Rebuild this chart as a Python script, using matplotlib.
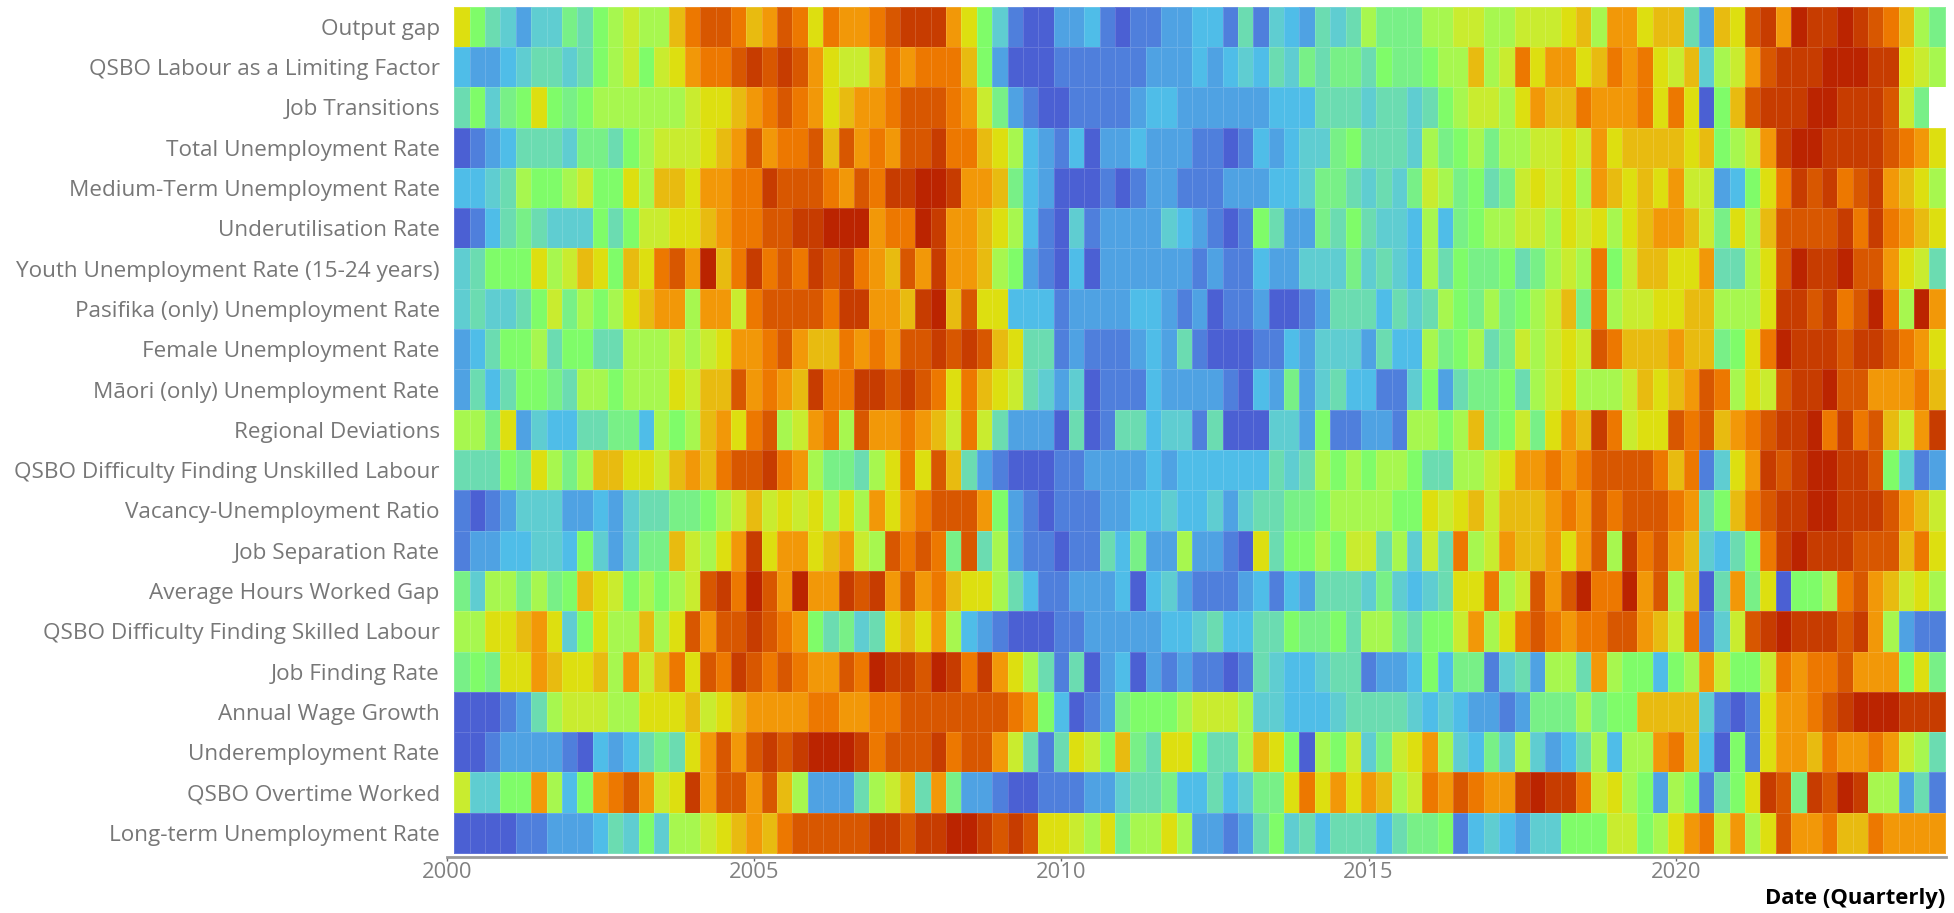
import numpy as np
import matplotlib
matplotlib.use("Agg")
import matplotlib.pyplot as plt
from matplotlib.colors import LinearSegmentedColormap

nan = float("nan")

output_gap = [10,7,5,4,2,4,4,6,5,7,8,9,8,8,11,13,14,14,13,11,12,14,13,10,13,
              12,12,13,14,15,15,15,12,10,7,4,1,0,0,2,2,3,1,0,1,1,2,2,3,3,
              1,5,1,4,3,2,5,4,5,8,6,6,6,8,8,9,9,8,8,9,9,9,
              10,11,8,12,12,10,11,11,5,2,11,10,14,15,12,16,15,15,16,15,14,13,11,8,6]
qsbo_labour = [3,2,2,3,4,5,5,4,5,7,8,9,7,9,10,12,13,13,14,15,14,15,14,12,10,
               9,9,11,13,12,13,13,13,11,7,2,0,0,0,1,1,1,1,1,1,2,2,2,3,2,
               3,4,3,5,4,6,5,6,6,5,7,6,6,7,8,8,11,8,9,13,10,12,
               12,10,11,13,12,13,10,9,11,4,8,9,12,14,15,15,15,16,16,16,15,15,10,9,8]
job_transitions = [5,7,4,6,7,10,7,6,7,8,8,8,8,8,8,9,10,10,11,12,13,14,13,12,10,
                   11,12,12,13,14,14,14,13,12,9,6,2,1,0,0,1,1,1,1,2,3,3,2,2,2,
                   2,2,2,3,3,3,5,5,5,4,5,5,4,5,7,8,9,9,8,10,12,11,
                   11,13,12,12,12,13,10,13,10,0,7,11,14,15,15,15,16,16,15,15,15,14,9,6,nan]
total_unemp = [0,1,2,3,5,5,5,4,6,6,5,7,8,9,9,9,10,11,12,14,12,13,13,14,11,
               14,12,13,12,14,14,15,13,13,11,10,8,3,2,1,3,0,2,2,3,2,2,2,1,1,
               0,1,3,2,3,4,4,6,7,5,5,5,4,8,6,7,8,6,8,8,9,9,
               10,9,12,10,11,11,11,11,10,11,7,8,9,12,15,16,16,15,15,15,15,14,13,12,10]
medium_unemp = [3,3,4,5,8,7,7,8,9,7,7,10,8,11,11,10,12,12,13,13,15,14,14,14,13,
                12,14,13,15,15,16,16,15,12,12,11,6,3,2,0,0,0,1,0,1,2,2,1,1,1,
                2,2,2,3,3,4,6,6,5,4,5,4,6,9,8,6,7,5,6,9,10,9,
                10,8,12,11,10,11,10,12,9,9,2,3,7,10,13,15,14,15,13,14,15,12,11,10,8]
underutil = [0,1,3,5,6,5,4,4,4,7,5,7,9,9,10,10,11,12,13,13,14,14,15,15,16,
             16,16,12,13,13,16,15,12,12,11,10,8,3,1,0,4,1,2,2,2,2,4,3,2,1,
             0,1,7,5,2,2,6,5,7,5,4,4,3,8,3,6,7,8,8,9,9,8,
             10,9,10,8,10,11,12,12,11,9,6,10,8,11,14,14,14,14,15,13,15,13,12,11,10]
youth_unemp = [4,5,7,7,7,10,8,9,11,10,7,11,10,13,14,12,16,11,13,15,13,14,13,15,14,
               15,13,12,11,14,12,15,12,12,11,8,7,2,1,0,3,0,2,2,2,2,2,2,1,2,
               1,1,3,2,2,4,4,4,6,4,5,4,3,8,5,7,6,6,7,5,6,8,
               9,8,13,7,9,11,11,10,10,12,5,5,8,10,14,16,15,15,16,14,14,12,10,9,5]
pasifika = [4,5,4,4,5,7,9,6,8,7,8,10,11,12,12,8,12,12,9,13,14,14,14,14,13,
            15,15,12,12,11,15,16,11,14,10,10,3,3,3,1,2,2,2,2,3,3,2,1,2,0,
            1,1,2,0,0,1,2,5,5,5,3,5,4,5,8,7,6,8,6,7,8,9,
            11,6,13,8,9,9,10,10,11,11,8,8,8,10,15,15,14,15,13,14,16,13,8,16,12]
female = [2,3,5,7,7,8,5,7,7,5,5,8,8,8,9,8,9,10,12,12,13,14,12,11,11,
          13,12,13,12,14,14,15,14,15,14,11,10,5,5,1,2,1,1,1,2,3,2,5,1,0,
          0,0,1,1,3,2,4,4,4,2,5,3,3,8,6,7,8,5,6,9,8,9,
          10,9,14,13,11,11,11,12,11,11,6,7,10,13,16,15,15,15,14,15,15,14,13,12,10]
maori = [2,5,3,5,7,7,6,5,8,8,7,8,8,8,10,9,11,11,14,12,13,12,11,15,13,
         13,15,15,14,15,14,13,10,13,11,10,9,5,4,2,4,0,1,1,1,3,2,2,2,2,
         1,0,3,2,6,2,4,5,3,3,1,1,4,7,2,5,6,6,7,5,8,9,
         10,8,8,8,9,11,10,11,12,14,13,8,10,9,14,15,15,16,14,14,12,12,12,13,11]
regional = [8,8,6,10,2,4,3,3,5,5,6,6,3,8,7,8,11,12,10,13,14,8,9,12,13,
            8,14,12,12,13,12,11,9,13,9,5,2,2,2,0,5,0,1,5,5,3,4,4,1,5,
            0,0,0,4,4,2,7,1,1,2,2,1,8,8,7,8,11,6,7,9,6,10,
            12,11,15,13,9,10,10,14,13,14,11,12,13,14,15,15,16,13,15,13,14,11,9,12,15]
qsbo_unskilled = [5,5,5,7,6,10,8,6,8,11,11,10,10,9,11,12,11,13,14,14,15,13,12,8,6,
                  6,5,8,10,13,10,14,11,5,2,1,0,0,0,1,1,2,2,2,2,3,2,3,3,3,
                  3,3,3,5,4,5,8,7,8,7,8,8,7,5,5,8,8,9,10,12,12,13,
                  12,13,14,14,14,14,13,11,13,1,4,10,12,15,14,15,16,16,15,15,14,7,4,1,2]
vacancy = [1,0,1,2,4,4,4,2,2,3,2,4,5,5,6,6,7,8,9,11,9,10,9,10,8,
           10,8,12,10,12,13,14,14,14,12,7,2,1,0,1,1,1,2,2,3,3,4,3,3,4,
           2,4,5,5,6,6,7,8,8,8,8,7,7,10,9,10,11,9,11,11,11,12,
           13,12,14,13,14,14,14,13,12,5,7,11,13,14,15,15,16,16,15,15,15,14,12,11,9]
job_separation = [1,2,2,3,3,4,4,3,7,4,2,4,6,6,11,9,8,10,12,15,10,12,12,10,11,
                  12,9,8,14,13,14,13,6,14,5,8,2,1,1,0,1,1,5,3,6,2,2,8,2,2,
                  1,0,10,5,7,7,8,7,9,9,5,8,4,9,5,13,8,9,12,11,11,12,
                  10,12,14,8,15,13,14,12,11,4,3,5,7,13,15,16,15,15,15,14,14,14,11,13,10]
hours_gap = [6,4,8,8,6,8,6,7,11,10,9,7,8,7,8,9,14,15,13,16,14,12,16,12,12,
             15,14,15,12,14,12,13,11,10,10,8,5,3,1,1,2,2,2,3,0,3,4,2,1,1,
             1,2,3,1,3,2,5,5,5,4,6,4,3,4,5,10,10,13,8,9,14,12,
             14,16,13,13,16,12,14,8,11,0,5,12,6,10,0,7,7,8,13,14,12,11,9,10,8]
qsbo_skilled = [8,8,10,10,11,12,10,4,7,10,8,8,11,8,10,14,12,14,14,15,14,13,12,7,5,
                6,4,5,10,11,10,12,8,3,2,1,0,0,0,1,1,2,2,2,2,2,3,3,4,5,
                3,3,5,5,7,6,6,7,5,8,8,6,5,7,7,9,12,8,10,13,14,13,
                12,13,13,14,14,12,11,9,13,1,4,9,14,15,16,15,15,15,14,15,12,8,2,1,1]
job_finding = [6,7,6,10,10,12,11,10,10,11,8,12,9,11,13,10,14,13,15,14,13,14,13,12,12,
               14,13,16,15,15,14,16,15,13,15,12,10,8,5,1,5,0,2,3,0,2,1,2,1,1,
               0,1,5,4,3,3,4,5,5,1,2,2,3,7,3,6,6,1,4,5,2,8,
               8,5,12,8,7,7,3,7,8,12,9,7,7,9,13,12,13,13,14,12,12,12,7,10,6]
wage_growth = [0,0,0,1,2,5,8,9,9,9,8,8,10,10,10,11,9,10,11,12,12,12,12,13,13,
               12,12,13,13,14,14,14,14,14,14,14,13,12,7,3,0,1,2,6,7,7,7,8,9,9,
               9,8,4,4,3,3,3,4,5,5,5,5,4,3,4,3,2,2,1,2,6,6,
               6,8,6,7,7,11,11,11,11,4,1,0,1,10,12,12,13,14,15,16,16,16,15,15,15]
underemployment = [0,0,1,2,2,2,2,1,0,3,2,3,5,6,5,10,12,14,12,14,15,14,15,16,16,
                   16,15,13,14,14,14,15,13,14,14,12,9,5,1,5,10,9,7,11,6,5,10,10,7,5,
                   5,8,11,10,7,0,8,7,9,4,6,9,10,12,8,4,3,6,4,8,4,2,
                   3,5,8,3,8,8,12,13,11,3,0,7,1,10,12,12,11,13,12,12,13,12,9,8,5]
overtime = [9,4,4,7,7,12,8,3,7,12,13,14,12,9,10,15,12,14,14,12,14,11,8,2,2,
            2,5,8,9,11,5,12,6,2,2,1,0,0,1,1,1,2,2,4,5,5,6,3,3,5,
            3,4,6,6,10,13,10,12,10,12,11,8,9,13,12,14,13,12,12,15,16,15,
            15,13,9,10,8,7,2,8,7,1,5,7,10,15,14,6,15,14,16,15,8,8,2,5,1]
long_term = [0,0,0,0,1,1,2,2,2,3,5,4,7,4,8,8,9,10,11,12,11,13,14,14,14,
             14,14,15,15,14,15,15,16,16,15,14,15,14,10,10,9,8,10,6,8,8,10,8,2,2,
             1,2,5,7,4,5,3,5,5,5,3,5,6,6,7,1,3,4,3,2,4,4,
             7,7,7,9,9,7,8,10,12,13,9,12,8,10,14,12,12,13,11,11,13,12,12,12,12]

row_labels = ["Output gap", "QSBO Labour as a Limiting Factor", "Job Transitions",
              "Total Unemployment Rate", "Medium-Term Unemployment Rate",
              "Underutilisation Rate", "Youth Unemployment Rate (15-24 years)",
              "Pasifika (only) Unemployment Rate", "Female Unemployment Rate",
              "Māori (only) Unemployment Rate", "Regional Deviations",
              "QSBO Difficulty Finding Unskilled Labour", "Vacancy-Unemployment Ratio",
              "Job Separation Rate", "Average Hours Worked Gap",
              "QSBO Difficulty Finding Skilled Labour", "Job Finding Rate",
              "Annual Wage Growth", "Underemployment Rate", "QSBO Overtime Worked",
              "Long-term Unemployment Rate"]
rows = [output_gap, qsbo_labour, job_transitions, total_unemp, medium_unemp, underutil,
        youth_unemp, pasifika, female, maori, regional, qsbo_unskilled, vacancy,
        job_separation, hours_gap, qsbo_skilled, job_finding, wage_growth,
        underemployment, overtime, long_term]
year_ticks = [2000, 2005, 2010, 2015, 2020]
palette = ["#4b60d3", "#4f7fdc", "#4fa2e3", "#4fbde8", "#5fcdd2", "#6bdcb2", "#78f088",
           "#7efc6a", "#a6f750", "#c8ec30", "#dde010", "#e8bc10", "#f29a08", "#ee7a00",
           "#d95800", "#c83e00", "#bb2400"]

for name, r in zip(row_labels, rows):
    assert len(r) == 97, (name, len(r))

W, H = 1954, 913
plt.rcParams["font.family"] = ["Open Sans", "DejaVu Sans"]
fig = plt.figure(figsize=(W / 100, H / 100), dpi=100, facecolor="white")
left, right, top, bottom = 446.7, 1946, 6.7, 856.5
ax = fig.add_axes([left / W, 1 - bottom / H, (right - left) / W, (bottom - top) / H])

data = np.array(rows, dtype=float)
cmap = LinearSegmentedColormap.from_list("heat", palette, N=256)
cmap.set_bad("white")
quarter = 0.25
x_edges = 2000.125 + quarter * np.arange(data.shape[1] + 1)
y_edges = np.arange(data.shape[0] + 1)
ax.pcolormesh(x_edges, y_edges, np.ma.masked_invalid(data), cmap=cmap, vmin=0, vmax=16,
              edgecolors=(1, 1, 1, 0.15), linewidth=0.6)

ax.set_xlim(2000, 2000 + (right - left) / 61.46)
ax.set_ylim(21 * (bottom - top) / 846.3, 0)
for s in ("top", "left", "right"):
    ax.spines[s].set_visible(False)
ax.spines["bottom"].set_color("#9a9a9a")
ax.spines["bottom"].set_linewidth(2.0)

ax.set_yticks(np.arange(21) + 0.5)
ax.set_yticklabels(row_labels, fontsize=16.2, color="#777777")
ax.tick_params(axis="y", length=0, pad=5)
ax.set_xticks(year_ticks)
ax.set_xticklabels([str(y) for y in year_ticks], fontsize=15.8, color="#808080")
ax.tick_params(axis="x", length=3, width=1, color="#666666", pad=1)

fig.text(1945 / W, 1 - 898 / H, "Date (Quarterly)", ha="right", va="center",
         fontsize=15.8, fontweight="bold", color="black")
fig.savefig("out.png", dpi=100)
